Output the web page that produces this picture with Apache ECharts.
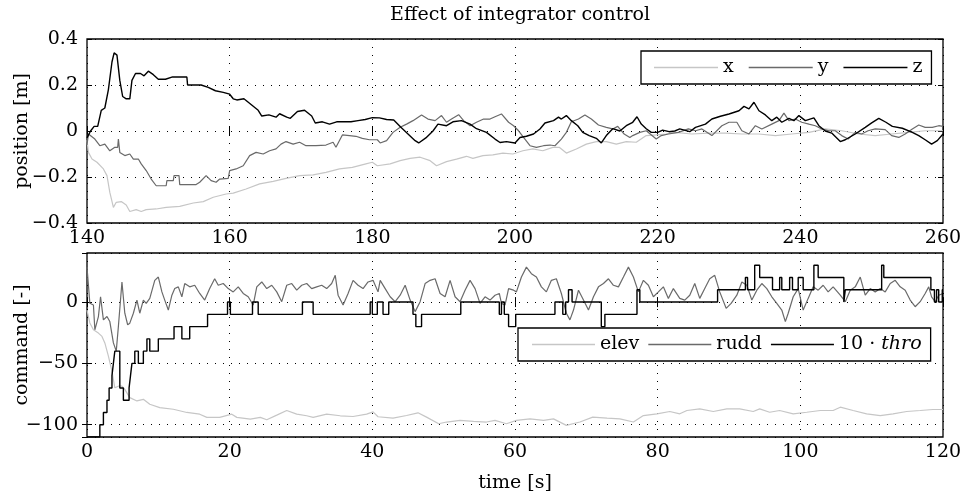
<!DOCTYPE html>
<html><head><meta charset="utf-8">
<script src="https://cdn.jsdelivr.net/npm/echarts@6/dist/echarts.min.js"></script>
<style>html,body{margin:0;padding:0;background:#fff}#c{width:964px;height:501px}</style>
</head><body><div id="c"></div>
<script>
// ---------- top plot: position [m] vs time 140..260 s ----------
const xTime=[140,140.2,140.7,141.4,142.3,142.8,143.2,143.7,144.1,144.8,145.5,146,146.9,147.6,148.3,149.7,151.1,153,154.9,156.3,157.7,159.5,160.5,162.3,164.2,166.1,167.9,169.8,171.7,173.5,175.4,177.2,179.1,180,180.7,182.5,183.9,185.3,186.7,188.1,189,190.4,191.8,193.2,194.1,195.5,196.9,198.3,199.7,201.1,202.5,203.9,205.3,206.2,207.2,208.6,210,211.4,212.8,214.2,215.6,217,218.4,219.8,221.2,222.4,224.8,227.1,229.5,231.8,234.2,236.5,238.8,241.2,243.5,245.8,248.2,250.5,252.8,255.2,257.5,260];
const xPos=[-0.04,-0.093,-0.122,-0.136,-0.165,-0.194,-0.267,-0.332,-0.31,-0.307,-0.322,-0.35,-0.342,-0.35,-0.342,-0.339,-0.332,-0.328,-0.313,-0.307,-0.288,-0.274,-0.27,-0.252,-0.23,-0.219,-0.206,-0.194,-0.191,-0.18,-0.165,-0.158,-0.143,-0.136,-0.151,-0.143,-0.129,-0.119,-0.114,-0.129,-0.151,-0.133,-0.122,-0.11,-0.119,-0.107,-0.104,-0.096,-0.1,-0.086,-0.078,-0.086,-0.071,-0.071,-0.096,-0.078,-0.057,-0.046,-0.046,-0.057,-0.046,-0.049,-0.02,-0.017,-0.013,-0.006,-0.013,-0.009,-0.009,-0.013,-0.013,-0.02,-0.013,-0.006,0.009,0.001,-0.013,-0.02,-0.013,-0.006,0.001,0.001];
const yTime=[140,140.2,141.1,141.8,142.5,143.2,143.9,144.3,144.4,144.6,145.3,146,146.5,147.2,147.6,148.3,149,149.7,151.1,151.2,152.1,152.2,152.9,153,155.3,155.8,156.7,157.4,158.1,158.6,159.8,160,160.9,161.9,162.8,163.7,164.7,165.6,166.5,167.2,167.9,168.9,169.8,170.7,172.1,173.5,174.5,174.9,175.8,176.8,177.7,178.6,179.6,180.7,181.1,182,182.9,183.9,184.8,185.7,186.9,187.8,188.8,189.7,190.4,191.1,192.1,192.8,193.7,194.6,195.6,196.5,197.2,198.1,199.1,199.8,200.5,201.2,202.1,203,204,204.9,205.6,206.5,207.2,207.9,208.9,209.8,210.7,211.7,212.8,213.7,214.4,215.3,216.1,216.5,217.5,218.4,219.8,220.5,221.5,222.9,224.3,225.3,226.2,227.6,229,230,231.1,231.8,232.8,233.7,234.6,236,237,237.7,238.4,239.3,240.2,241.2,242.1,243,244,244.9,245.8,246.7,247.7,248.6,249.5,250.5,251.9,252.8,253.8,254.7,255.7,256.6,257.5,258.5,259.4,260];
const yPos=[-0.06,-0.013,-0.035,-0.064,-0.057,-0.086,-0.071,-0.071,-0.035,-0.093,-0.107,-0.1,-0.122,-0.122,-0.143,-0.172,-0.209,-0.238,-0.238,-0.216,-0.216,-0.194,-0.194,-0.233,-0.233,-0.223,-0.194,-0.216,-0.223,-0.209,-0.206,-0.172,-0.165,-0.151,-0.107,-0.093,-0.1,-0.086,-0.078,-0.057,-0.046,-0.057,-0.049,-0.064,-0.064,-0.061,-0.049,-0.071,-0.017,-0.02,-0.023,-0.032,-0.038,-0.038,-0.052,-0.042,-0.006,0.016,0.03,0.045,0.07,0.052,0.045,0.067,0.038,0.052,0.071,0.045,0.023,0.038,0.052,0.052,0.062,0.074,0.038,0.023,0.001,-0.028,-0.064,-0.071,-0.064,-0.061,-0.064,-0.035,-0.006,0.04,0.052,0.07,0.052,0.026,0.016,0.009,0.02,-0.013,-0.028,-0.02,-0.006,0.001,-0.035,-0.02,-0.013,-0.006,0.009,0.001,0.009,-0.02,0.023,0.038,0.038,0.001,-0.013,0.023,0.009,0.03,0.045,0.078,0.045,0.052,0.038,0.03,0.023,0.009,0.001,0.001,-0.02,-0.035,-0.006,-0.013,0.001,0.009,0.006,-0.02,-0.028,-0.013,0.009,0.026,0.016,0.016,0.023,0.02];
const zTime=[140,140.5,141,141.5,142,142.5,143,143.5,143.8,144.2,144.4,144.6,145,145.5,146,146.3,146.8,147.5,148,148.6,149.3,150,151,152,153,154,154.1,155,156,157,158,159.1,160,160.5,161,162,163,164,164.5,165.5,166.5,167,168,168.5,169.5,170.5,171.5,172,173,174,175,176,177,178,179,180,181,182,183,184,185,186,186.5,187.5,188.5,189.2,190.4,191.3,192.5,193.7,194.6,196,197.2,197.9,198.8,200,200.7,201.6,202.6,203.5,204.2,205.4,206.1,206.5,207.2,207.9,208.8,209.5,210.4,211.4,212.1,212.8,213.7,214.7,215.6,216.5,217.1,217.7,218.4,219.1,220,220.7,221.6,222.4,223.1,224.5,225.3,226.7,227.6,228.8,230,231.4,232.1,232.8,233.5,234.2,235.1,236,236.7,237.4,238.4,239.1,239.8,240.7,241.9,242.6,243.5,244.4,245.6,246.3,247.7,249.1,250,251,252,252.9,254.3,255.7,256.6,257.5,258.4,259.2,260];
const zPos=[-0.03,0,0.02,0.02,0.09,0.1,0.18,0.3,0.34,0.33,0.33,0.22,0.15,0.14,0.14,0.22,0.25,0.25,0.24,0.26,0.245,0.225,0.225,0.235,0.235,0.235,0.2,0.2,0.2,0.19,0.175,0.168,0.16,0.14,0.135,0.14,0.115,0.09,0.065,0.07,0.06,0.075,0.06,0.055,0.085,0.09,0.065,0.035,0.04,0.03,0.04,0.04,0.04,0.045,0.05,0.058,0.057,0.05,0.048,0.016,-0.013,-0.042,-0.052,-0.03,0,0.03,0.023,0.04,0.045,0.03,0.01,-0.006,-0.035,-0.05,-0.046,-0.052,-0.028,-0.023,-0.013,0.009,0.035,0.045,0.06,0.052,0.067,0.045,0.023,-0.006,-0.02,-0.032,-0.052,-0.02,0.01,0,0.023,0.038,0.062,0.03,0.01,-0.006,-0.006,0.004,-0.003,0,0.009,-0.003,0.016,0.03,0.052,0.064,0.074,0.088,0.107,0.096,0.125,0.088,0.07,0.045,0.06,0.038,0.055,0.045,0.067,0.045,0.057,0.023,0,-0.009,-0.046,-0.038,-0.013,0.016,0.035,0.055,0.038,0.02,0.012,-0.006,-0.02,-0.038,-0.057,-0.042,-0.013];

// ---------- bottom plot: command [-] vs time 0..120 s ----------
const elevTime=[0,0.4,0.9,1.6,2.1,2.5,3,3.5,3.9,4.4,4.9,5.3,6,7,7.9,8.8,10.2,12.1,14,15.8,16.8,18.6,20.3,21,22.9,24.3,25.2,26.6,28,29.4,30.8,31.7,33.6,35.5,37.3,39.2,40.1,40.8,42.9,44.8,46.4,47.6,49.3,50.4,52.3,54.2,56,57.2,58.8,60.2,62.1,64,65.4,67.2,69.1,70.9,72.9,74.7,76.6,78,79.9,81.7,83.1,84.1,85.9,87.8,89.7,91.5,93.4,94.3,95.7,97.1,99,100.9,102.8,104.6,105.6,107.4,109.3,111.2,113,114.9,116.8,118.6,120];
const elev=[-6.5,-17,-22.6,-25.3,-28,-33.3,-44,-56.5,-69.9,-68.6,-68.6,-71.2,-77.9,-80.6,-79.3,-83.3,-86,-87.4,-90,-91.4,-94,-94,-91.4,-94,-95.4,-94,-95.9,-92.2,-88.4,-91.4,-92.7,-94,-91.4,-92.7,-93.3,-91.4,-89.5,-93.5,-94.6,-92.5,-90.3,-93.8,-99.2,-97.8,-96.5,-97.3,-97.8,-96.5,-99.2,-96.5,-95.2,-96.5,-95.2,-100.5,-97.8,-93.8,-94.6,-95.2,-97.8,-92.5,-91.1,-89.2,-91.1,-88.4,-87.1,-89.2,-87.1,-87.1,-89.2,-87.1,-89.8,-88.4,-91.1,-89.8,-88.4,-88.4,-85.7,-88.4,-91.1,-92.5,-91.1,-89.2,-88.4,-87.6,-87.6];
const ruddTime=[0,0.2,0.4,0.9,1.1,1.6,1.9,2.3,2.8,3.2,3.7,4.1,4.4,4.9,5.3,5.7,6,6.5,7,7.4,7.9,8.3,8.8,9.5,10,10.5,10.9,11.4,11.9,12.3,12.8,13.3,13.7,14.4,15.1,15.8,16.5,17.2,17.9,18.4,19.1,19.8,20.5,21.2,21.9,22.6,23.3,23.8,24.5,25.2,25.9,26.6,27.3,28,28.7,29.4,30.1,30.8,31.5,32.2,32.9,33.6,34.3,34.8,35.2,35.9,36.6,37.3,38,38.7,39.4,40.1,40.8,41.1,41.8,42.5,43.2,43.9,44.6,45.3,46,46.7,47.4,48.1,48.8,49.5,50.2,50.9,51.6,52.3,53,53.7,54.4,55.1,55.8,56.5,57.2,57.8,58.1,58.6,59.1,59.8,60.2,60.9,61.6,62.3,63,63.7,64.4,65.1,65.8,66.5,67.2,67.7,68.2,68.9,69.6,70.3,71,71.7,72.4,73.1,73.8,74.5,75.2,75.9,76.6,77.3,78,78.7,79.4,80.1,80.8,81.5,82.2,83.1,83.8,84.5,85.2,85.9,86.6,87.3,88,88.7,89.6,90.3,91.1,91.8,92.5,93.2,93.9,94.6,95.3,96,96.7,97.4,97.9,98.3,99,99.7,100.4,101.1,101.8,102.5,103.2,103.9,104.6,105.6,106.3,107,107.7,108.4,109.1,109.8,110.5,111.2,111.9,112.6,113.3,114,114.7,115.4,116.1,116.8,117.5,118,118.4,118.9,119.4,120];
const rudd=[28.5,28.5,-1,-2.4,-22.6,-11.8,4.3,-14.5,-11.8,-15.9,-33.3,-40,-19.9,16.4,-9.1,-18.5,-17.2,-9.1,1.6,-9.1,1.6,-1.1,3,17.7,20.4,8.3,1.6,-6.5,5.6,11,12.4,4.3,15.1,12.4,13.7,7,1.6,11,19,13.7,15.1,11,8.3,12.4,7,4.3,-2.4,12.4,16.4,11,13.7,8.3,0.3,13.7,15.1,9.7,13.7,15.1,11,12.4,13.7,11,15.1,21.8,5.6,-2.4,7,17.7,13.7,11,16.4,17.7,8.3,17.7,11,4.3,0.3,5.6,13.7,1.6,-7.8,0.3,15.1,17.7,19,7,4.3,17.7,4.3,0.3,9.7,17.7,11,-1.1,4.3,1.6,5.6,7,-1.1,-2.4,11,9.7,8.3,20.4,28.5,23.1,20.4,12.4,8.3,17.7,19,7,-9.1,-14.5,-6.5,9.7,1.6,-6.5,4.3,12.4,15.1,19,13.7,12.4,20.4,28.5,20.4,8.3,17.7,13.7,4.3,8.3,12.4,3,11,3,1.6,5.6,15.1,3,11,19,21.8,8.3,-5.1,-1.1,5.6,16.4,13.7,1.6,9.7,15.1,11,4.3,-1.1,-6.5,-15.9,-9.1,4.3,11,-6.5,3,12.4,9.7,13.7,8.3,12.4,5.6,0.3,9.7,12.4,20.4,5.6,11,8.3,11,8.3,15.1,17.7,12.4,9.7,1.6,-3.8,0.3,7,12.4,4.3,0.3,5.6,7];
const throTime=[0,1.8,2.3,2.8,3.1,3.5,3.7,3.9,4.6,5.1,5.9,6.1,6.3,6.7,7.2,7.9,8.4,8.8,10,12.2,13.3,14.4,16.9,19.7,20.1,23.2,24,30.2,31.7,39.7,40,40.7,41.5,42.3,45.7,46.1,46.9,52.4,57.8,58.1,58.5,59.1,60.1,65.6,66.7,67.1,67.5,68,72.1,72.6,77.1,77.5,88.4,92.3,92.6,93.6,94.3,96.1,97.1,97.4,98.5,98.9,99.7,100.4,101.9,102.5,106.1,106.3,111.4,111.7,118.3,118.8,119.1,119.4,119.9,120];
const thro=[-110,-100,-90,-80,-70,-60,-50,-40,-70,-80,-70,-60,-50,-40,-50,-40,-30,-40,-30,-20,-30,-20,-10,0,-10,0,-10,0,-10,0,-10,0,-10,0,-10,-20,-10,0,-10,0,-10,-20,-10,0,-10,0,10,0,-20,-10,10,0,10,20,10,30,20,10,20,10,20,10,20,10,30,20,0,10,30,20,10,0,10,0,10,10];

const FONT='DejaVu Serif';
const FS=19;
const C_LIGHT='#c6c6c6', C_MID='#6a6a6a', C_DARK='#000000';
const pairs=(t,v)=>t.map((ti,i)=>[ti,v[i]]);
const fmtNum=v=>{let s=Math.abs(v)<1e-9?'0':(Math.round(v*1000)/1000).toString();return s.replace('-','\u2212');};
const txt={fontFamily:FONT,fontSize:FS,color:'#000'};
const dotted={show:true,lineStyle:{color:'#000',width:1,type:[1,7]}};
const tickIn={show:true,inside:true,length:5,lineStyle:{color:'#000',width:1}};

function xAx(g,min,max,extra){return Object.assign({type:'value',gridIndex:g,min:min,max:max,interval:20,
  axisLine:{show:false},axisTick:tickIn,axisLabel:Object.assign({margin:6,formatter:fmtNum},txt),splitLine:dotted},extra||{});}
function xMirror(g,min,max){return {type:'value',gridIndex:g,min:min,max:max,interval:20,position:'top',
  axisLine:{show:false},axisTick:tickIn,axisLabel:{show:false},splitLine:{show:false}};}

const gridBase={left:87,right:21,height:184,show:true,borderColor:'#000',borderWidth:1.3,
  backgroundColor:'rgba(0,0,0,0)',containLabel:false,outerBoundsMode:'none'};

const chart=echarts.init(document.getElementById('c'),null,{renderer:'canvas'});
chart.setOption({
  animation:false,
  backgroundColor:'#fff',
  title:{text:'Effect of integrator control',left:515,top:1,textAlign:'center',
    textStyle:{fontFamily:FONT,fontSize:FS,fontWeight:'normal',color:'#000'}},
  grid:[
    Object.assign({top:39},gridBase),
    Object.assign({top:253},gridBase)
  ],
  xAxis:[
    xAx(0,140,260),
    xMirror(0,140,260),
    xAx(1,0,120,{name:'time [s]',nameLocation:'middle',nameGap:37,nameMoveOverlap:false,nameTextStyle:txt}),
    xMirror(1,0,120)
  ],
  yAxis:[
    {type:'value',gridIndex:0,min:-0.4,max:0.4,interval:0.2,axisLine:{show:false},axisTick:tickIn,
     axisLabel:Object.assign({margin:9,formatter:fmtNum},txt),splitLine:dotted,
     name:'position [m]',nameLocation:'middle',nameGap:55,nameRotate:90,nameMoveOverlap:false,nameTextStyle:txt},
    {type:'value',gridIndex:0,min:-0.4,max:0.4,interval:0.2,position:'right',axisLine:{show:false},axisTick:tickIn,
     axisLabel:{show:false},splitLine:{show:false}},
    {type:'value',gridIndex:1,min:-110,max:40,splitNumber:3,axisLine:{show:false},axisTick:tickIn,
     axisLabel:Object.assign({margin:9,formatter:fmtNum,showMinLabel:false,showMaxLabel:false},txt),splitLine:dotted,
     name:'command [-]',nameLocation:'middle',nameGap:55,nameRotate:90,nameMoveOverlap:false,nameTextStyle:txt},
    {type:'value',gridIndex:1,min:-110,max:40,splitNumber:3,position:'right',axisLine:{show:false},axisTick:tickIn,
     axisLabel:{show:false},splitLine:{show:false}}
  ],
  legend:[
    {data:['x','y','z'],left:641,top:51,itemWidth:64,itemHeight:1.4,icon:'rect',itemGap:15,selectedMode:false,
     padding:[7,9,7,13],borderColor:'#000',borderWidth:1.3,backgroundColor:'#fff',textStyle:txt},
    {data:['elev','rudd','thro'],left:518,top:328,itemWidth:63,itemHeight:1.4,icon:'rect',itemGap:9,selectedMode:false,
     padding:[7,9,7,14],borderColor:'#000',borderWidth:1.3,backgroundColor:'#fff',
     formatter:n=>n==='thro'?'10 \u00b7 {i|thro}':n,
     textStyle:Object.assign({rich:{i:{fontFamily:FONT,fontSize:FS,fontStyle:'italic',color:'#000'}}},txt)}
  ],
  series:[
    {name:'x',type:'line',xAxisIndex:0,yAxisIndex:0,data:pairs(xTime,xPos),showSymbol:false,lineStyle:{color:C_LIGHT,width:1.2},itemStyle:{color:C_LIGHT}},
    {name:'y',type:'line',xAxisIndex:0,yAxisIndex:0,data:pairs(yTime,yPos),showSymbol:false,lineStyle:{color:C_MID,width:1.2},itemStyle:{color:C_MID}},
    {name:'z',type:'line',xAxisIndex:0,yAxisIndex:0,data:pairs(zTime,zPos),showSymbol:false,lineStyle:{color:C_DARK,width:1.4},itemStyle:{color:C_DARK}},
    {name:'elev',type:'line',xAxisIndex:2,yAxisIndex:2,data:pairs(elevTime,elev),showSymbol:false,lineStyle:{color:C_LIGHT,width:1.2},itemStyle:{color:C_LIGHT}},
    {name:'rudd',type:'line',xAxisIndex:2,yAxisIndex:2,data:pairs(ruddTime,rudd),showSymbol:false,lineStyle:{color:C_MID,width:1.2},itemStyle:{color:C_MID}},
    {name:'thro',type:'line',step:'end',xAxisIndex:2,yAxisIndex:2,data:pairs(throTime,thro),showSymbol:false,lineStyle:{color:C_DARK,width:1.4},itemStyle:{color:C_DARK}}
  ]
});
</script></body></html>
